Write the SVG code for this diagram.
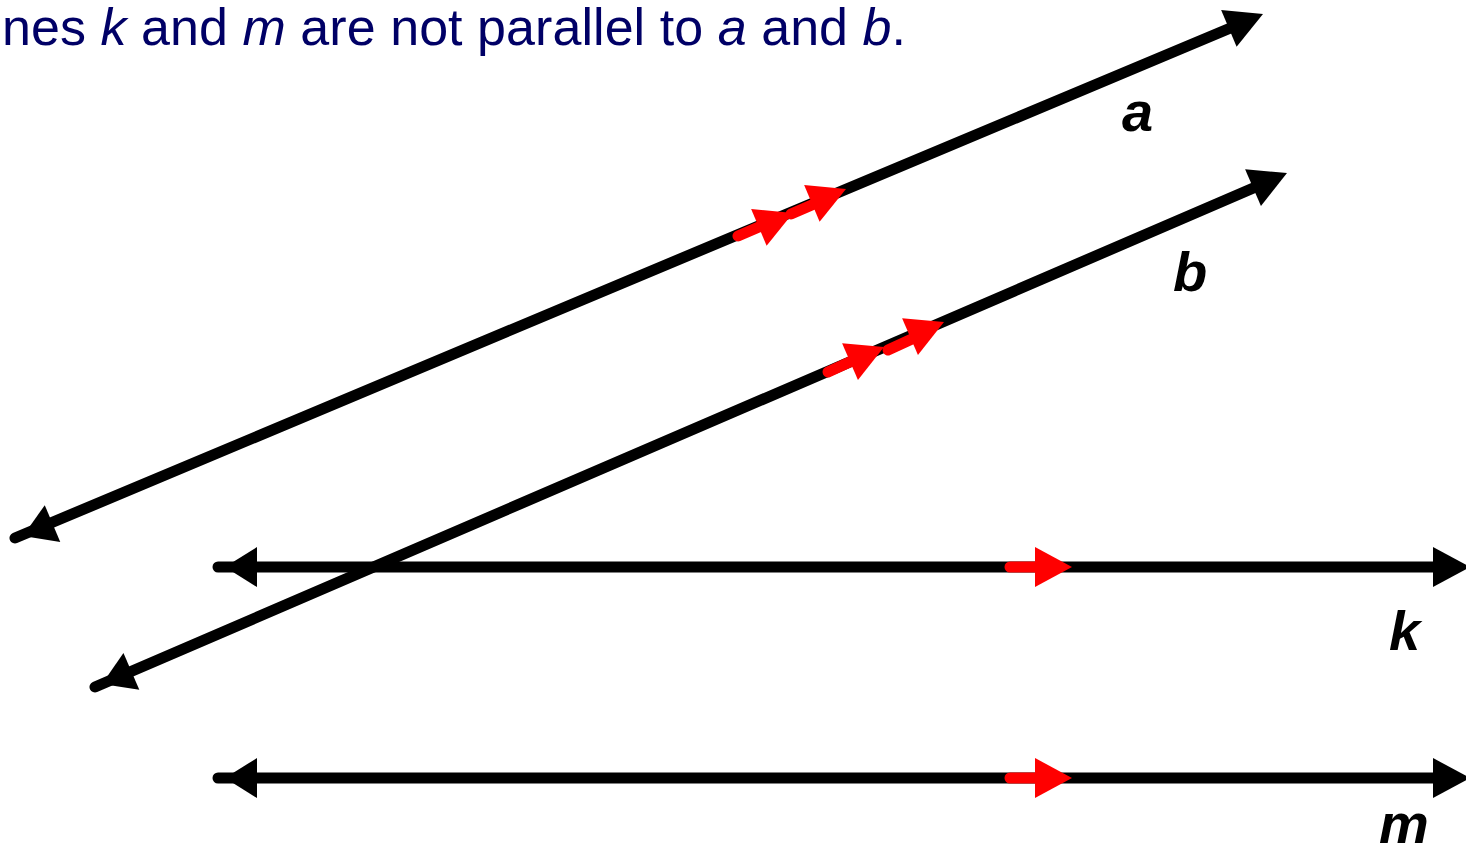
<svg xmlns="http://www.w3.org/2000/svg" xmlns:xlink="http://www.w3.org/1999/xlink" width="1466" height="850" viewBox="0 0 1466 850">
<style>
.ln{stroke:#000;stroke-width:11;stroke-linecap:round;fill:none}
.rd{stroke:#ff0000;stroke-width:11;stroke-linecap:round;fill:none}
.lbl{font-family:"Liberation Sans",Arial,sans-serif;font-size:56px;font-weight:bold;font-style:italic;fill:#000}
.title{font-family:"Liberation Sans",Arial,sans-serif;font-size:52px;fill:#000066}
</style>
<defs>
<path id="head" d="M0,0 L-37,-20 L-37,20 Z"/>
<path id="headS" d="M0,0 L-32,-20 L-32,20 Z"/>
</defs>
<rect width="1466" height="850" fill="#fff"/>
<text class="title" x="2" y="45" textLength="904" lengthAdjust="spacing">nes <tspan font-style="italic">k</tspan> and <tspan font-style="italic">m</tspan> are not parallel to <tspan font-style="italic">a</tspan> and <tspan font-style="italic">b</tspan>.</text>
<g id="connectors">
<g id="line-a">
<path class="ln" d="M15,538 L1240,24"/>
<use href="#head" transform="translate(1263,14) rotate(-22.77)"/>
<use href="#headS" transform="translate(23,536) rotate(157.23)"/>
<path class="rd" d="M738,236 L775,220"/>
<use href="#head" fill="#ff0000" transform="translate(793,213) rotate(-22.77)"/>
<path class="rd" d="M791,214 L828,198"/>
<use href="#head" fill="#ff0000" transform="translate(846,189) rotate(-22.77)"/>
</g>
<g id="line-b">
<path class="ln" d="M95,687 L1265,183"/>
<use href="#head" transform="translate(1287,173) rotate(-23.33)"/>
<use href="#headS" transform="translate(102,684) rotate(156.67)"/>
<path class="rd" d="M828,372 L865,355"/>
<use href="#head" fill="#ff0000" transform="translate(884,347) rotate(-23.33)"/>
<path class="rd" d="M888,350 L925,333"/>
<use href="#head" fill="#ff0000" transform="translate(944,322) rotate(-23.33)"/>
</g>
<g id="line-k">
<path class="ln" d="M218,567 L1440,567"/>
<use href="#head" transform="translate(1470,567)"/>
<use href="#headS" transform="translate(225,567) rotate(180)"/>
<path class="rd" d="M1010,567 L1045,567"/>
<use href="#head" fill="#ff0000" transform="translate(1072,567)"/>
</g>
<g id="line-m">
<path class="ln" d="M218,778 L1440,778"/>
<use href="#head" transform="translate(1470,778)"/>
<use href="#headS" transform="translate(225,778) rotate(180)"/>
<path class="rd" d="M1010,778 L1045,778"/>
<use href="#head" fill="#ff0000" transform="translate(1072,778)"/>
</g>
</g>
<g id="label-a"><text class="lbl" x="1122" y="131">a</text></g>
<g id="label-b"><text class="lbl" x="1173" y="291">b</text></g>
<g id="label-k"><text class="lbl" x="1389" y="650">k</text></g>
<g id="label-m"><text class="lbl" x="1379" y="843">m</text></g>
</svg>
